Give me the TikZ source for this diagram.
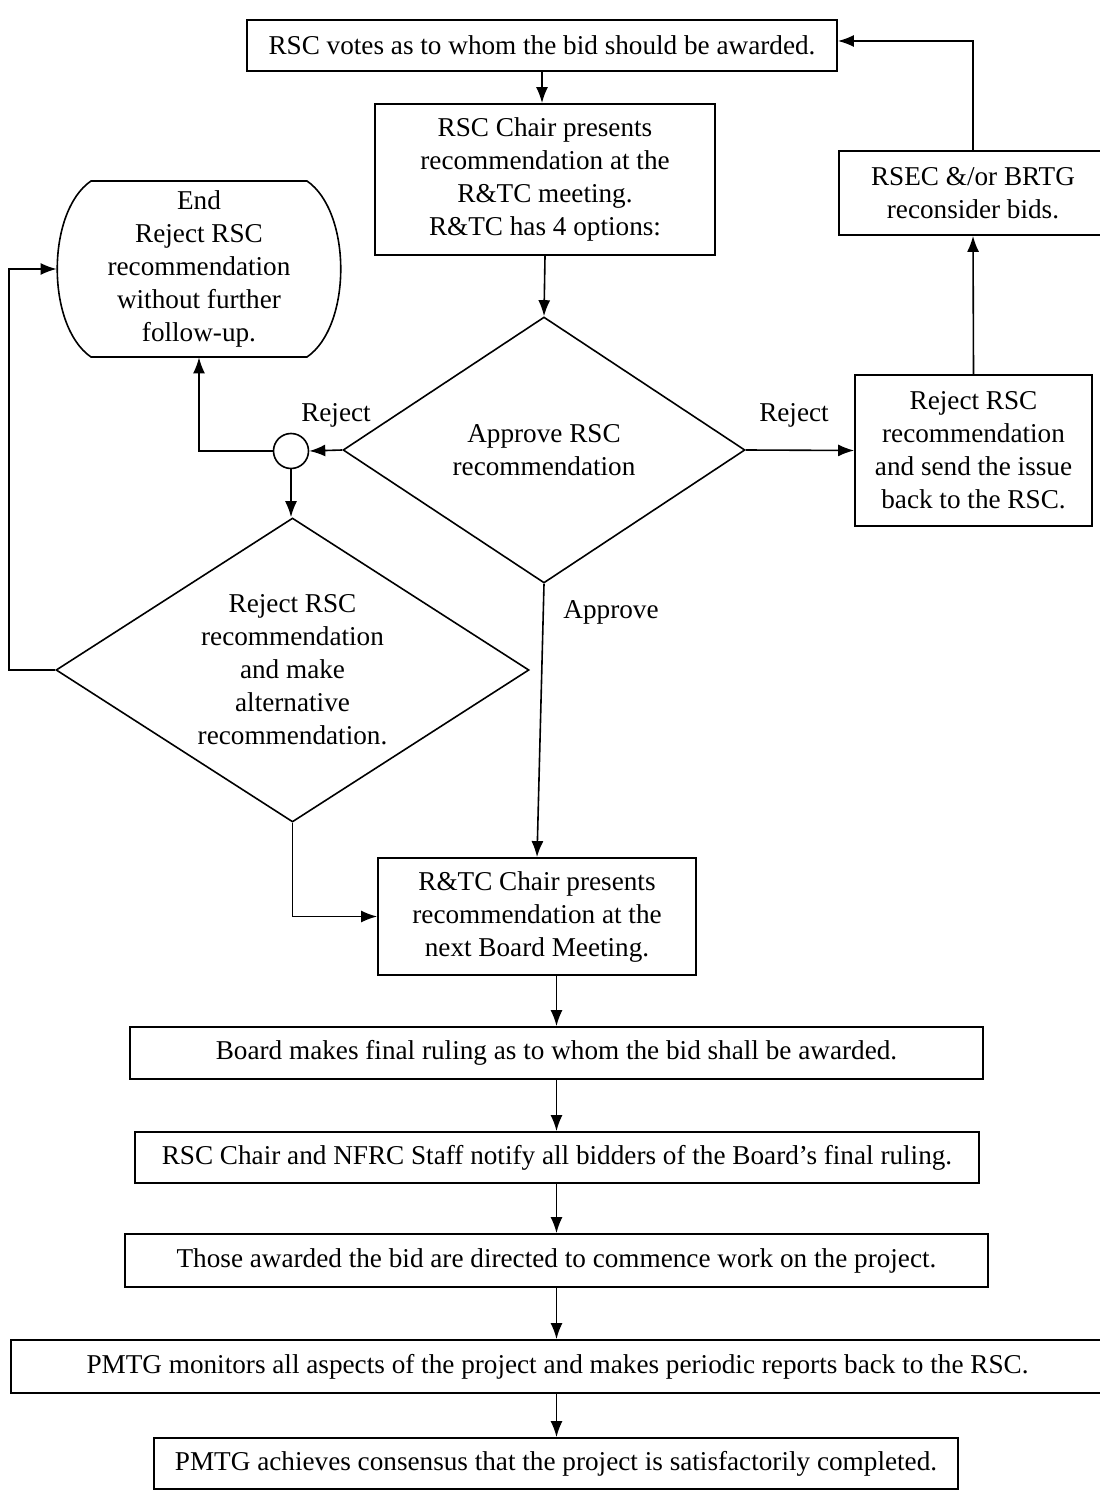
\documentclass[tikz,border=0pt]{standalone}
\usepackage{fontspec}
\setmainfont{Liberation Serif}
\usetikzlibrary{shapes.geometric,arrows.meta,calc}
\begin{document}
\begin{tikzpicture}[x=0.5pt,y=-0.5pt,
  every node/.style={font=\fontsize{13.6}{16.5}\selectfont},
  box/.style={draw,line width=0.9pt,inner sep=0pt,align=center,rectangle},
  dia/.style={draw,line width=0.8pt,shape=diamond,inner sep=0pt,align=center},
  lbl/.style={inner sep=0pt},
  arr/.style={line width=0.8pt,-{Latex[length=8pt,width=6pt]}},
  ln/.style={line width=0.8pt}]
\fill[white] (0,0) rectangle (1099,1491);
\useasboundingbox (0,0) rectangle (1099,1491);

\node[box,minimum width=295pt,minimum height=25.5pt] (b1) at (542,45.5) {RSC votes as to whom the bid should be awarded.};
\node[box,minimum width=170pt,minimum height=75.5pt] (b2) at (545,179.5) {RSC Chair presents\\recommendation at the\\R\&TC meeting.\\R\&TC has 4 options:};
\node[dia,aspect=1.5,minimum width=201pt,minimum height=133pt] (d1) at (544,450) {Approve RSC\\recommendation};
\node[box,minimum width=118.5pt,minimum height=75.5pt] (rr) at (973.5,450.5) {Reject RSC\\recommendation\\and send the issue\\back to the RSC.};
\node[box,minimum width=134pt,minimum height=42pt] (rsec) at (973,193) {RSEC \&/or BRTG\\reconsider bids.};
\node[inner sep=0pt,minimum width=142pt,minimum height=88pt,align=center] (endn) at (199,269) {End\\Reject RSC\\recommendation\\without further\\follow-up.};
\draw[ln] (91,181) -- (307,181) .. controls (352,212) and (352,326) .. (307,357) -- (91,357) .. controls (46,326) and (46,212) .. (91,181) -- cycle;
\node[draw,circle,line width=0.8pt,inner sep=0pt,minimum size=17.5pt] (circ) at (291,451) {};
\node[dia,aspect=1.55,minimum width=236.5pt,minimum height=152pt] (d2) at (292.5,670) {Reject RSC\\recommendation\\and make\\alternative\\recommendation.};
\node[box,minimum width=159pt,minimum height=58.5pt] (rtc) at (537,916.5) {R\&TC Chair presents\\recommendation at the\\next Board Meeting.};
\node[box,minimum width=426.5pt,minimum height=26pt] (board) at (556.5,1053) {Board makes final ruling as to whom the bid shall be awarded.};
\node[box,minimum width=422pt,minimum height=25.5pt] (notify) at (557,1157.5) {RSC Chair and NFRC Staff notify all bidders of the Board’s final ruling.};
\node[box,minimum width=431.5pt,minimum height=26.5pt] (those) at (556.5,1260.5) {Those awarded the bid are directed to commence work on the project.};
\node[box,minimum width=546.5pt,minimum height=26.5pt] (pmtg) at (557.5,1366.5) {PMTG monitors all aspects of the project and makes periodic reports back to the RSC.};
\node[box,minimum width=402pt,minimum height=25.5pt] (ach) at (556,1463.5) {PMTG achieves consensus that the project is satisfactorily completed.};

\node[lbl] (lrejl) at (336,415) {Reject};
\node[lbl] (lrejr) at (794,415) {Reject};
\node[lbl] (lapp) at (611,612) {Approve};

\draw[arr] (b1.south) -- (b1.south |- b2.north);
\draw[arr] (b2.south) -- (d1.north);
\draw[arr] (d1.east) -- (rr.west);
\draw[arr] (rr.north) -- (rsec.south);
\draw[arr] (rsec.north) |- ($(b1.east)+(0,-4.5)$);
\draw[arr] (d1.west) -- (circ.east);
\draw[arr] (circ.west) -| (endn.south);
\draw[arr] (circ.south) -- (circ.south |- d2.north);
\draw[arr] (d2.west) -- ++(-46,0) |- (endn.west);
\draw[arr] (d2.south) |- (rtc.west);
\draw[arr] (d1.south) -- (rtc.north);
\draw[arr] (rtc.south -| board.north) -- (board.north);
\draw[arr] (board.south) -- (board.south |- notify.north);
\draw[arr] (notify.south -| board.south) -- (board.south |- those.north);
\draw[arr] (those.south -| board.south) -- (board.south |- pmtg.north);
\draw[arr] (pmtg.south -| board.south) -- (board.south |- ach.north);
\end{tikzpicture}
\end{document}
